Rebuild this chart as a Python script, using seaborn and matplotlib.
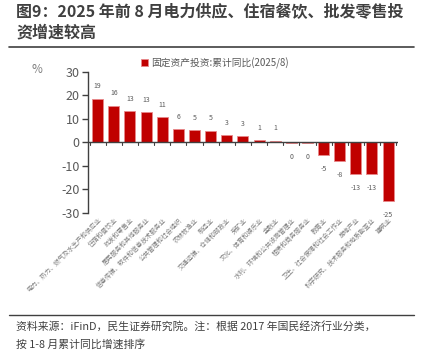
import matplotlib
matplotlib.use('Agg')
import matplotlib.pyplot as plt
import numpy   as np
import pandas  as pd
import seaborn as sns

# Data
industries = ['电力、热力、燃气及水生产和供应业', '住宿和餐饮业', '批发和零售业',
              '居民服务和其他服务业', '信息传输、软件和信息技术服务业', '公共管理和社会组织',
              '农林牧渔业', '制造业', '交通运输、仓储和邮政业', '采矿业',
              '文化、体育和娱乐业', '金融业', '水利、环境和公共设施管理业',
              '租赁和商务服务业', '教育业', '卫生、社会保障和社会工作业', '房地产业',
              '科学研究、技术服务和地质勘查业', '建筑业']
growth = [18.7, 15.6, 13.3, 12.9, 10.7, 5.7, 5.1, 4.9, 3.0, 2.6,
          1.0, 0.7, -0.1, -0.3, -5.3, -8.0, -13.4, -13.4, -25.0]
series_name = '固定资产投资:累计同比(2025/8)'
yticks = [-30, -20, -10, 0, 10, 20, 30]

sns.set_style('white')
plt.rcParams['font.family'] = ['Noto Sans CJK SC', 'DejaVu Sans']

df = pd.DataFrame({'industry': industries, 'growth': growth})

fig = plt.figure(figsize=(4.25, 3.53), dpi=100)
ax = fig.add_axes([0.207, 0.397, 0.729, 0.399])

bar_red = '#C00000'
sns.barplot(data=df, x='industry', y='growth', color=bar_red, width=0.68,
            edgecolor='#E8888A', linewidth=0.6, saturation=1, ax=ax,
            label=series_name)

# value labels
for i, v in enumerate(growth):
    txt = f'{int(round(v))}'
    if v >= 0:
        ax.text(i, v + 3.6, txt, ha='center', va='bottom', fontsize=5, color='#595959')
    else:
        ax.text(i, v - 4.2, txt, ha='center', va='top', fontsize=5, color='#595959')

ax.set_ylim(-30, 30)
ax.set_xlim(-0.6, len(industries) - 0.4)
ax.set_yticks(yticks)
ax.set_yticklabels([str(t) for t in yticks], fontsize=9, color='#595959')
ax.set_xlabel('')
ax.set_ylabel('')

# axes styling: only left spine and zero line
for s in ['top', 'right', 'bottom']:
    ax.spines[s].set_visible(False)
ax.spines['left'].set_color('#404040')
ax.spines['left'].set_linewidth(1.0)
ax.axhline(0, color='#404040', lw=1.0, zorder=3)
ax.tick_params(axis='y', length=4, width=1.0, color='#404040', left=True, pad=2)

# category boundary ticks hanging from the zero line
for b in np.arange(-0.5, len(industries), 1.0):
    ax.plot([b, b], [0, -1.3], color='#404040', lw=0.8, zorder=3, clip_on=False)

ax.set_xticks(range(len(industries)))
ax.set_xticklabels(industries, rotation=45, ha='right', rotation_mode='anchor',
                   fontsize=4.6, color='#7F7F7F')
ax.tick_params(axis='x', length=0, pad=2)
for lbl in ax.get_xticklabels():
    lbl.set_y(-0.005)

ax.text(-0.165, 1.02, '%', transform=ax.transAxes, fontsize=8.5, color='#7F7F7F',
        ha='center', va='center')

ax.legend(loc='center', bbox_to_anchor=(0.41, 1.065), frameon=False, fontsize=7,
          handlelength=0.7, handleheight=0.7, handletextpad=0.4,
          labelcolor='#595959')

# title, rules and footnote
fig.text(0.038, 0.965, '图9：2025 年前 8 月电力供应、住宿餐饮、批发零售投', fontsize=11.5,
         fontweight='bold', color='#404040', va='center', ha='left')
fig.text(0.038, 0.908, '资增速较高', fontsize=11.5, fontweight='bold', color='#404040',
         va='center', ha='left')
fig.add_artist(plt.Line2D([0.02, 0.975], [0.867, 0.867], color='#404040', lw=1.2))
fig.add_artist(plt.Line2D([0.02, 0.975], [0.109, 0.109], color='#404040', lw=1.0))
fig.text(0.038, 0.076, '资料来源：iFinD，民生证券研究院。注：根据 2017 年国民经济行业分类，',
         fontsize=7.8, color='#404040', va='center', ha='left')
fig.text(0.038, 0.025, '按 1-8 月累计同比增速排序', fontsize=7.8, color='#404040',
         va='center', ha='left')

fig.savefig('out.png', dpi=100)
